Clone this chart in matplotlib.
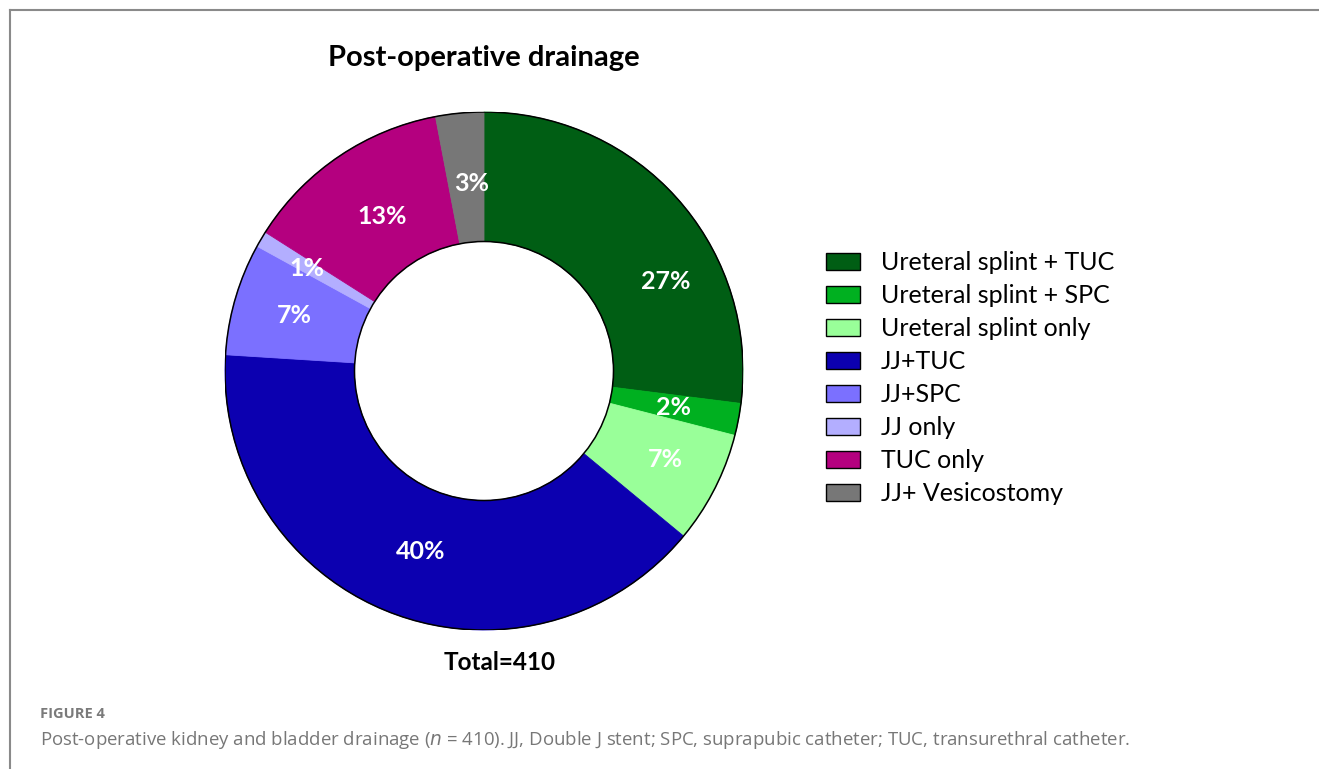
import numpy as np
import matplotlib
matplotlib.use("Agg")
import matplotlib.pyplot as plt
from matplotlib.patches import Patch, Circle
from matplotlib.lines import Line2D

plt.rcParams['font.family'] = ['Lato', 'DejaVu Sans']

# drainage groups, share of patients (%)
categories = ["Ureteral splint + TUC", "Ureteral splint + SPC", "Ureteral splint only",
              "JJ+TUC", "JJ+SPC", "JJ only", "TUC only", "JJ+ Vesicostomy"]
shares = [27, 2, 7, 40, 7, 1, 13, 3]
colors = ["#005E14", "#00B020", "#99FF99", "#0C00B0", "#7B70FF", "#B3AEFF", "#B4007F", "#777777"]
total = 410

# where each percentage label sits, in units of the outer radius
label_xy = [(0.70, 0.344), (0.73, -0.14), (0.70, -0.34), (-0.245, -0.697),
            (-0.734, 0.216), (-0.683, 0.394), (-0.395, 0.598), (-0.047, 0.725)]

W, H = 1319, 769
fig = plt.figure(figsize=(W / 100, H / 100), dpi=100)

# donut centre and radius in pixels
cx, cy, r = 484, 371, 259
ax = fig.add_axes([(cx - r) / W, (H - cy - r) / H, 2 * r / W, 2 * r / H])

wedges, _ = ax.pie(shares, colors=colors, startangle=90, counterclock=False,
                   radius=1, wedgeprops=dict(width=0.5, linewidth=0.6))
for w in wedges:
    w.set_edgecolor(w.get_facecolor())
for c in (1.0, 0.5):
    ax.add_patch(Circle((0, 0), c, fill=False, edgecolor="black", linewidth=1.1))
for v, (x, y) in zip(shares, label_xy):
    ax.text(x, y, "%d%%" % v, ha="center", va="center", color="white",
            fontsize=18, fontweight="bold")
ax.set_xlim(-1, 1)
ax.set_ylim(-1, 1)
ax.set_aspect("equal")
ax.axis("off")

fig.text(cx / W, 1 - 58 / H, "Post-operative drainage", ha="center", va="center",
         fontsize=21, fontweight="bold")
fig.text(500 / W, 1 - 662 / H, "Total=%d" % total, ha="center", va="center",
         fontsize=17.5, fontweight="bold")

handles = [Patch(facecolor=c, edgecolor="black", linewidth=1) for c in colors]
fig.legend(handles, categories, loc="upper left", bbox_to_anchor=(826 / W, 1 - 251 / H),
           frameon=False, fontsize=18, handlelength=1.35, handleheight=0.7,
           handletextpad=0.85, labelspacing=0.40, borderpad=0, borderaxespad=0)

# border lines and caption
fig.add_artist(Line2D([10 / W, 1], [1 - 10 / H, 1 - 10 / H], color="#8a8a8a", linewidth=1.5))
fig.add_artist(Line2D([10 / W, 10 / W], [1 - 10 / H, 0], color="#8a8a8a", linewidth=1.5))

fig.text(40 / W, 1 - 714 / H, "FIGURE 4", fontsize=10.5, color="#7a7a7a",
         fontweight="bold", va="center", family=["Open Sans", "DejaVu Sans"])
fig.text(40 / W, 1 - 740 / H,
         "Post-operative kidney and bladder drainage ($\\it{n}$ = 410). JJ, Double J stent; "
         "SPC, suprapubic catheter; TUC, transurethral catheter.",
         fontsize=13.4, color="#777777", va="center", family=["Open Sans", "DejaVu Sans"])

fig.savefig("out.png", dpi=100)
